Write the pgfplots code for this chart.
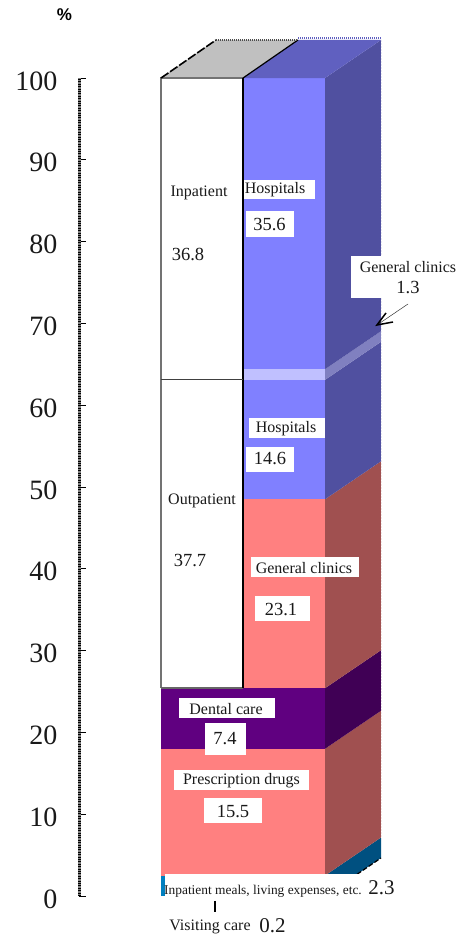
\documentclass[border=0pt]{standalone}
\usepackage{pgfplots}
\pgfplotsset{compat=1.18}
\usepackage{fontspec}
\setmainfont{Liberation Serif}
\newfontfamily\pctfont{Liberation Sans}
\definecolor{hospfront}{HTML}{8080FF}
\definecolor{hospside}{HTML}{5050A0}
\definecolor{hosptop}{HTML}{6060C0}
\definecolor{bandfront}{HTML}{C0C0FF}
\definecolor{bandside}{HTML}{8080C0}
\definecolor{pinkfront}{HTML}{FF8080}
\definecolor{pinkside}{HTML}{A05050}
\definecolor{dentfront}{HTML}{600080}
\definecolor{dentside}{HTML}{400055}
\definecolor{mealfront}{HTML}{0080C0}
\definecolor{mealside}{HTML}{005080}
\definecolor{lidgrey}{HTML}{C0C0C0}
% white label plate: x1 y1 x2 y2
\newcommand{\plate}[4]{\fill[white] (#1,#2) rectangle (#3,#4);}
% label: x y size text
\newcommand{\lab}[4]{\node[inner sep=0pt,font=\fontsize{#3}{#3}\selectfont,text=black!90] at (#1,#2) {#4};}
\begin{document}
\begin{tikzpicture}
\useasboundingbox (0,0) rectangle (459pt,937pt);
% stacked prism: x in picture units, y in percent
\begin{axis}[
  at={(0pt,0pt)},anchor=south west,scale only axis,
  width=459pt,height=937pt,
  xmin=0,xmax=459,ymin=-5.012,ymax=109.54,
  axis lines=none,clip=false]
% left column
\addplot[draw=none,fill=white] coordinates {(161,25.4)(243,25.4)(243,100)(161,100)} -- cycle;
\addplot[draw=none,fill=dentfront] coordinates {(161,18)(325,18)(325,25.4)(161,25.4)} -- cycle;
\addplot[draw=none,fill=pinkfront] coordinates {(161,2.5)(325,2.5)(325,18)(161,18)} -- cycle;
\addplot[draw=none,fill=mealfront] coordinates {(161,0)(165,0)(165,2.5)(161,2.5)} -- cycle;
% right column, front face
\addplot[draw=none,fill=pinkfront] coordinates {(243,25.4)(325,25.4)(325,48.5)(243,48.5)} -- cycle;
\addplot[draw=none,fill=hospfront] coordinates {(243,48.5)(325,48.5)(325,63.1)(243,63.1)} -- cycle;
\addplot[draw=none,fill=bandfront] coordinates {(243,63.1)(325,63.1)(325,64.4)(243,64.4)} -- cycle;
\addplot[draw=none,fill=hospfront] coordinates {(243,64.4)(325,64.4)(325,100)(243,100)} -- cycle;
% side face, raised by the depth of the prism
\addplot[draw=none,fill=mealside] coordinates {(325,0)(381,4.65)(381,7.15)(325,2.5)} -- cycle;
\addplot[draw=none,fill=pinkside] coordinates {(325,2.5)(381,7.15)(381,22.65)(325,18)} -- cycle;
\addplot[draw=none,fill=dentside] coordinates {(325,18)(381,22.65)(381,30.05)(325,25.4)} -- cycle;
\addplot[draw=none,fill=pinkside] coordinates {(325,25.4)(381,30.05)(381,53.15)(325,48.5)} -- cycle;
\addplot[draw=none,fill=hospside] coordinates {(325,48.5)(381,53.15)(381,67.75)(325,63.1)} -- cycle;
\addplot[draw=none,fill=bandside] coordinates {(325,63.1)(381,67.75)(381,69.05)(325,64.4)} -- cycle;
\addplot[draw=none,fill=hospside] coordinates {(325,64.4)(381,69.05)(381,104.65)(325,100)} -- cycle;
% lid
\addplot[draw=none,fill=lidgrey] coordinates {(161,100)(216,104.65)(298,104.65)(243,100)} -- cycle;
\addplot[draw=none,fill=hosptop] coordinates {(243,100)(298,104.65)(381,104.65)(325,100)} -- cycle;
% column outlines
\addplot[black!55,line width=1.6pt] coordinates {(161,25.4)(161,100)(243,100)};
\addplot[black!60,line width=1.6pt] coordinates {(161,25.4)(243,25.4)};
\addplot[black,line width=1.1pt] coordinates {(243,25.4)(243,100)};
\addplot[black!75,line width=1.1pt] coordinates {(161,63.1)(243,63.1)};
\addplot[black,line width=1.2pt] coordinates {(243,100)(298,104.65)};
\addplot[black,line width=1.6pt,dash pattern=on 9pt off 2pt] coordinates {(161,100)(216,104.65)};
\addplot[black!70,line width=1.6pt,dash pattern=on 1pt off 1pt] coordinates {(216,104.65)(298,104.65)};
% foot of the side face
\addplot[black,line width=1.2pt,dash pattern=on 5pt off 2pt] coordinates {(357,2.65)(381,4.65)};
% ragged outer edges
\addplot[white,line width=1pt,dash pattern=on 1pt off 2pt] coordinates {(381.5,7.15)(381.5,104.65)};
\addplot[hosptop,line width=1.4pt,dash pattern=on 1pt off 1pt] coordinates {(298,104.9)(381,104.9)};
\addplot[white,line width=1pt,dash pattern=on 1pt off 2pt] coordinates {(160.5,2.5)(160.5,25.4)};
% tick below the foot of the column
\addplot[black,line width=1.6pt] coordinates {(215,-0.6)(215,-2)};
\end{axis}
% percent scale
\begin{axis}[
  at={(79.5pt,41pt)},anchor=south west,scale only axis,
  width=100pt,height=818pt,
  xmin=0,xmax=1,ymin=0,ymax=100,
  axis x line=none,axis y line*=left,clip=false,
  ytick={0,10,...,100},
  tick align=inside,major tick length=6.5pt,
  tick style={black,line width=0.9pt},
  y axis line style={draw=black!50,line width=3pt},
  /pgf/number format/assume math mode=true,
  yticklabel style={font=\fontsize{28}{28}\selectfont,text=black!90,anchor=east,xshift=-22pt,yshift=-3pt,inner sep=0pt}]
\addplot[black,line width=3pt,dash pattern=on 1pt off 1.4pt] coordinates {(0,0)(0,100)};
\end{axis}
% labels, placed in a y-down frame
\begin{scope}[yshift=937pt,x=1pt,y=-1pt]
\plate{244}{180}{315}{199}
\plate{246}{211}{294}{237}
\plate{351}{256}{459}{298}
\plate{249}{418}{325}{438}
\plate{246}{447}{294}{472}
\plate{251}{557}{359}{577}
\plate{255}{596}{310}{621}
\plate{179}{698}{275}{718}
\plate{205}{723}{246}{755}
\plate{174}{770}{309}{790}
\plate{204}{798}{262}{823}
\plate{165}{874}{362}{898}
\node[inner sep=0pt,font=\pctfont\bfseries\fontsize{17}{17}\selectfont] at (64.5,15) {\%};
\lab{199}{193}{16}{Inpatient}
\lab{188}{254}{18.5}{36.8}
\lab{275}{190}{16}{Hospitals}
\lab{269.5}{225}{18.5}{35.6}
\lab{408}{267}{16}{General clinics}
\lab{408}{288}{18.5}{1.3}
\lab{286}{429}{16}{Hospitals}
\lab{270}{459}{18.5}{14.6}
\lab{202}{501}{16}{Outpatient}
\lab{190}{561}{18.5}{37.7}
\lab{304}{568}{16}{General clinics}
\lab{281}{610}{18.5}{23.1}
\lab{226}{709}{16}{Dental care}
\lab{225}{739}{18.5}{7.4}
\lab{241.5}{781}{16}{Prescription drugs}
\lab{233}{812}{18.5}{15.5}
\lab{263}{891}{13.4}{Inpatient meals, living expenses, etc.}
\lab{381.5}{888}{21}{2.3}
\lab{210}{927}{16}{Visiting care}
\lab{272.5}{926}{21}{0.2}
\draw[black!80,line width=0.5pt] (408,304) -- (377,325);
\draw[black,line width=1.5pt] (386,313) -- (377,325) -- (393,322);
\end{scope}
\end{tikzpicture}
\end{document}
